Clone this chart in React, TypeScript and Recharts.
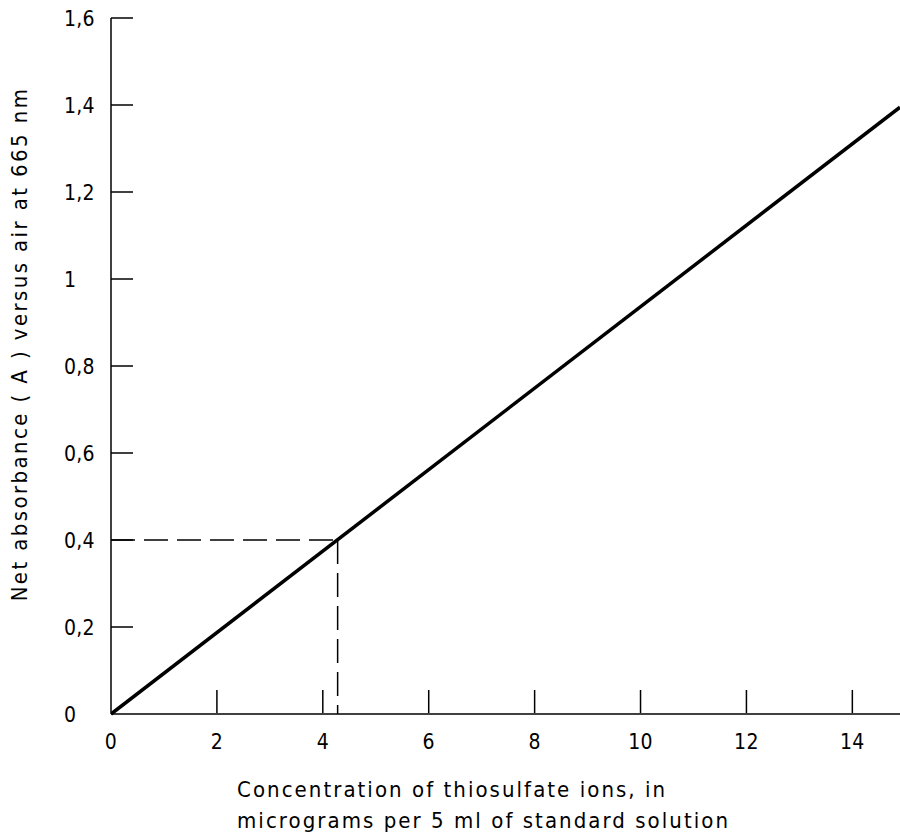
import React from "react";
import { LineChart, Line, XAxis, YAxis, ReferenceLine } from "recharts";

const concentration = [0, 14.9];
const absorbance = [0, 1.395];
const xTicks = [0, 2, 4, 6, 8, 10, 12, 14];
const yTicks = [0, 0.2, 0.4, 0.6, 0.8, 1, 1.2, 1.4, 1.6];
const readConcentration = 4.28;
const readAbsorbance = 0.4;
const yTitle = "Net absorbance ( A ) versus air at 665 nm";
const xTitle1 = "Concentration of thiosulfate ions, in";
const xTitle2 = "micrograms per 5 ml of standard solution";

const data = concentration.map((c, i) => ({ c, a: absorbance[i] }));

const FONT = "'DejaVu Sans Condensed', 'DejaVu Sans', sans-serif";
const fmt = (v: number) => String(v).replace(".", ",");

const YTick = (props: any) => {
  const { x, y, payload } = props;
  const axisX = x + 30;
  return (
    <g>
      {payload.value !== 0 && (
        <line x1={axisX} y1={y} x2={axisX + 22} y2={y} stroke="#000" strokeWidth={1.5} />
      )}
      <text x={x - 17} y={y} dy="0.36em" textAnchor="start" fontSize={21} fontFamily={FONT} fill="#000" letterSpacing={0.3}>
        {fmt(payload.value)}
      </text>
    </g>
  );
};

const XTick = (props: any) => {
  const { x, y, payload } = props;
  const axisY = y - 21;
  return (
    <g>
      {payload.value !== 0 && (
        <line x1={x} y1={axisY} x2={x} y2={axisY - 23} stroke="#000" strokeWidth={1.5} />
      )}
      <text x={x} y={y} dy="0.72em" textAnchor="middle" fontSize={21} fontFamily={FONT} fill="#000" letterSpacing={0.3}>
        {fmt(payload.value)}
      </text>
    </g>
  );
};

export default function App() {
  return (
    <div style={{ position: "absolute", left: 0, top: 0, width: 900, height: 837, background: "#fff" }}>
      <LineChart width={900} height={837} data={data} margin={{ top: 18, right: 0, bottom: 0, left: 0 }}>
        <XAxis
          type="number"
          dataKey="c"
          domain={[0, 14.9]}
          ticks={xTicks}
          allowDataOverflow
          height={123}
          tickSize={0}
          tickMargin={20}
          tickLine={false}
          axisLine={{ stroke: "#000", strokeWidth: 1.5 }}
          tick={<XTick />}
          interval={0}
          label={{
            content: (p: any) => {
              const vb = p.viewBox;
              return (
                <g fontFamily={FONT} fontSize={22} fill="#000" letterSpacing={2.05}>
                  <text x={vb.x + 126} y={vb.y + 83} textAnchor="start">{xTitle1}</text>
                  <text x={vb.x + 126} y={vb.y + 114} textAnchor="start">{xTitle2}</text>
                </g>
              );
            },
          }}
        />
        <YAxis
          type="number"
          domain={[0, 1.6]}
          ticks={yTicks}
          width={111}
          tickSize={0}
          tickMargin={30}
          tickLine={false}
          axisLine={{ stroke: "#000", strokeWidth: 1.5 }}
          tick={<YTick />}
          interval={0}
          label={{
            content: (p: any) => {
              const vb = p.viewBox;
              const cx = vb.x + 19;
              const cy = vb.y + vb.height / 2 - 22;
              return (
                <text
                  x={cx}
                  y={cy}
                  textAnchor="middle"
                  dominantBaseline="central"
                  transform={`rotate(-90 ${cx} ${cy})`}
                  fontFamily={FONT}
                  fontSize={22}
                  letterSpacing={2.4}
                  fill="#000"
                >
                  {yTitle}
                </text>
              );
            },
          }}
        />
        <ReferenceLine
          segment={[{ x: 0, y: readAbsorbance }, { x: readConcentration, y: readAbsorbance }]}
          stroke="#000"
          strokeWidth={1.5}
          strokeDasharray="24 9"
        />
        <ReferenceLine
          segment={[{ x: readConcentration, y: readAbsorbance }, { x: readConcentration, y: 0 }]}
          stroke="#000"
          strokeWidth={1.5}
          strokeDasharray="24 9"
        />
        <Line
          type="linear"
          dataKey="a"
          stroke="#000"
          strokeWidth={3.5}
          dot={false}
          isAnimationActive={false}
        />
      </LineChart>
    </div>
  );
}
